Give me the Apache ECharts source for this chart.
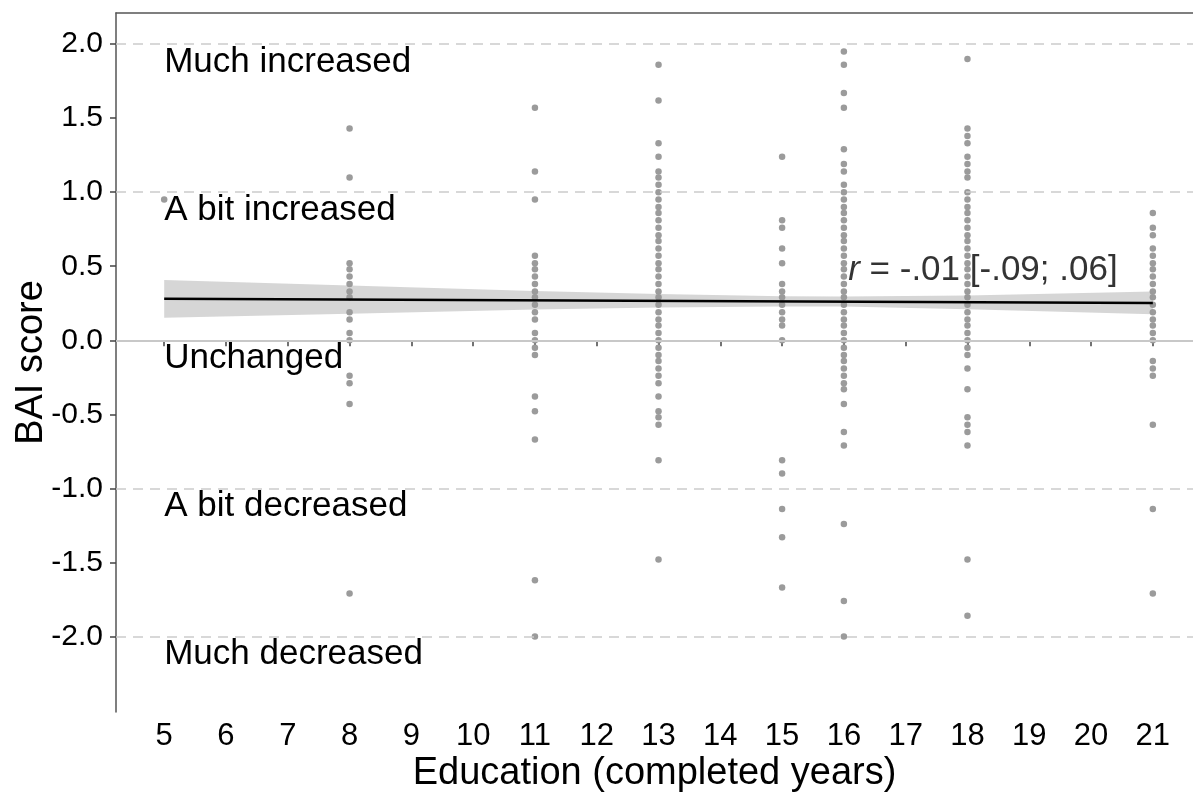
<!DOCTYPE html>
<html>
<head>
<meta charset="utf-8">
<script src="https://cdn.jsdelivr.net/npm/echarts@6/dist/echarts.min.js"></script>
<style>
  html, body { margin: 0; padding: 0; background: #fff; }
  #chart { width: 1193px; height: 792px; }
</style>
</head>
<body>
<div id="chart"></div>
<script>
// BAI score per person, grouped by completed years of education
var bai5 = [0.95];
var bai8 = [1.43, 1.10, 0.52, 0.48, 0.43, 0.38, 0.33, 0.29, 0.19, 0.14, 0.05, 0.00, -0.24, -0.29, -0.43, -1.71];
var bai11 = [1.57, 1.14, 0.95, 0.57, 0.52, 0.48, 0.43, 0.38, 0.33, 0.29, 0.24, 0.19, 0.14, 0.05, 0.00, -0.05, -0.10,
  -0.38, -0.48, -0.67, -1.62, -2.00];
var bai13 = [1.86, 1.62, 1.33, 1.24, 1.14, 1.10, 1.05, 1.00, 0.95, 0.90, 0.86, 0.81, 0.76, 0.71, 0.67, 0.62, 0.57,
  0.52, 0.48, 0.43, 0.38, 0.33, 0.29, 0.24, 0.19, 0.14, 0.10, 0.05, 0.00, -0.05, -0.10, -0.14, -0.19, -0.24, -0.29,
  -0.38, -0.48, -0.52, -0.57, -0.81, -1.48];
var bai15 = [1.24, 0.81, 0.76, 0.62, 0.52, 0.38, 0.33, 0.29, 0.24, 0.19, 0.14, 0.10, 0.00, -0.81, -0.90, -1.14, -1.33, -1.67];
var bai16 = [1.95, 1.86, 1.67, 1.57, 1.29, 1.19, 1.14, 1.05, 1.00, 0.95, 0.90, 0.86, 0.81, 0.76, 0.71, 0.67, 0.62,
  0.57, 0.52, 0.48, 0.43, 0.38, 0.33, 0.29, 0.24, 0.19, 0.14, 0.10, 0.05, 0.00, -0.05, -0.10, -0.14, -0.19, -0.24,
  -0.29, -0.33, -0.43, -0.62, -0.71, -1.24, -1.76, -2.00];
var bai18 = [1.90, 1.43, 1.38, 1.33, 1.24, 1.19, 1.14, 1.10, 1.00, 0.95, 0.90, 0.86, 0.81, 0.76, 0.71, 0.67, 0.62,
  0.57, 0.52, 0.48, 0.43, 0.38, 0.33, 0.29, 0.24, 0.19, 0.14, 0.10, 0.05, 0.00, -0.05, -0.10, -0.19, -0.33,
  -0.52, -0.57, -0.62, -0.71, -1.48, -1.86];
var bai21 = [0.86, 0.76, 0.71, 0.62, 0.57, 0.52, 0.48, 0.43, 0.38, 0.33, 0.29, 0.24, 0.19, 0.14, 0.10, 0.05, 0.00,
  -0.14, -0.19, -0.24, -0.57, -1.14, -1.71];

var eduYears = [5, 8, 11, 13, 15, 16, 18, 21];
var baiByYear = [bai5, bai8, bai11, bai13, bai15, bai16, bai18, bai21];

// linear fit and its confidence band
var fitX = [5, 21];
var fitY = [0.28, 0.252];
var bandX = [5, 8, 11, 13, 15, 16, 18, 21];
var bandLow = [0.153, 0.18, 0.208, 0.222, 0.228, 0.228, 0.21, 0.175];
var bandHigh = [0.407, 0.37, 0.332, 0.312, 0.298, 0.296, 0.302, 0.33];

var xTicks = [5, 6, 7, 8, 9, 10, 11, 12, 13, 14, 15, 16, 17, 18, 19, 20, 21];
var yTicks = [-2, -1.5, -1, -0.5, 0, 0.5, 1, 1.5, 2];
var dashedLevels = [2, 1, -1, -2];
var levelNames = ['Much increased', 'A bit increased', 'Unchanged', 'A bit decreased', 'Much decreased'];
var levelNameY = [1.88, 0.88, -0.12, -1.12, -2.12];
var corrText = ' = -.01 [-.09; .06]';
var corrPos = [18.25, 0.47];

var FONT = '"Liberation Sans", Arial, sans-serif';

var points = [];
for (var i = 0; i < eduYears.length; i++) {
  for (var j = 0; j < baiByYear[i].length; j++) {
    points.push([eduYears[i], baiByYear[i][j]]);
  }
}

var bandData = [];
for (var b = 0; b < bandX.length; b++) {
  bandData.push([bandX[b], bandLow[b], bandHigh[b]]);
}

var nameData = [];
for (var n = 0; n < levelNames.length; n++) {
  nameData.push({ value: [5, levelNameY[n]], label: { formatter: levelNames[n] } });
}

var gridLines = [];
for (var g = 0; g < dashedLevels.length; g++) {
  gridLines.push({ yAxis: dashedLevels[g], lineStyle: { type: [10, 7], color: '#cccccc', width: 1.6 } });
}
gridLines.push({ yAxis: 0, lineStyle: { type: 'solid', color: '#c8c8c8', width: 2 } });

var chart = echarts.init(document.getElementById('chart'), null, { renderer: 'canvas' });

var option = {
  backgroundColor: '#ffffff',
  animation: false,
  textStyle: { fontFamily: FONT },
  grid: { left: 116, top: 13, right: 0, bottom: 80, containLabel: false, outerBoundsMode: 'none' },
  xAxis: [
    {
      type: 'value',
      min: 4.22,
      max: 21.65,
      name: 'Education (completed years)',
      nameLocation: 'middle',
      nameGap: 43,
      nameMoveOverlap: false,
      nameTextStyle: { fontSize: 38, color: '#000', fontFamily: FONT },
      axisLine: { show: true, lineStyle: { color: '#555', width: 1.5 } },
      axisTick: { show: true, length: 6, customValues: xTicks, lineStyle: { color: '#444', width: 1.5 } },
      axisLabel: { customValues: xTicks, fontSize: 31, color: '#000', margin: 9, fontFamily: FONT },
      splitLine: { show: false }
    },
    {
      type: 'value',
      position: 'top',
      min: 4.22,
      max: 21.65,
      axisLine: { show: true, lineStyle: { color: '#555', width: 1.5 } },
      axisTick: { show: false },
      axisLabel: { show: false },
      splitLine: { show: false }
    }
  ],
  yAxis: {
    type: 'value',
    min: -2.51,
    max: 2.21,
    name: 'BAI score',
    nameLocation: 'middle',
    nameGap: 65,
    nameMoveOverlap: false,
    nameTextStyle: { fontSize: 38, color: '#000', fontFamily: FONT },
    axisLine: { show: true, lineStyle: { color: '#555', width: 1.5 } },
    axisTick: { show: true, length: 6, customValues: yTicks, lineStyle: { color: '#444', width: 1.5 } },
    axisLabel: {
      customValues: yTicks, fontSize: 30, color: '#000', margin: 13, fontFamily: FONT,
      formatter: function (v) { return v.toFixed(1); }
    },
    splitLine: { show: false }
  },
  series: [
    {
      // reference lines at the answer levels
      type: 'line',
      data: [],
      z: 1,
      markLine: { silent: true, symbol: 'none', label: { show: false }, data: gridLines }
    },
    {
      type: 'scatter',
      data: points,
      symbolSize: 6.5,
      itemStyle: { color: '#9b9b9b', opacity: 1 },
      z: 2
    },
    {
      type: 'custom',
      data: bandData,
      z: 3,
      renderItem: function (params, api) {
        if (params.dataIndex !== 0) return null;
        var top = [], bottom = [];
        for (var k = 0; k < bandData.length; k++) {
          top.push(api.coord([bandData[k][0], bandData[k][2]]));
          bottom.unshift(api.coord([bandData[k][0], bandData[k][1]]));
        }
        return {
          type: 'polygon',
          shape: { points: top.concat(bottom) },
          style: { fill: 'rgba(153,153,153,0.4)' }
        };
      }
    },
    {
      type: 'line',
      data: [[fitX[0], fitY[0]], [fitX[1], fitY[1]]],
      symbol: 'none',
      lineStyle: { color: '#000', width: 2.5 },
      z: 4
    },
    {
      type: 'scatter',
      data: nameData,
      symbolSize: 0,
      itemStyle: { color: '#000' },
      z: 5,
      label: {
        show: true, position: 'right', distance: 0, verticalAlign: 'middle',
        fontSize: 35, color: '#000', opacity: 1, fontFamily: FONT
      }
    },
    {
      type: 'scatter',
      data: [corrPos],
      symbolSize: 0,
      itemStyle: { color: '#000' },
      z: 5,
      label: {
        show: true, position: 'inside', align: 'center', verticalAlign: 'middle',
        formatter: '{i|r}{t|' + corrText + '}',
        rich: {
          i: { fontSize: 35, fontStyle: 'italic', color: '#000', fontFamily: FONT },
          t: { fontSize: 35, color: '#000', fontFamily: FONT }
        }
      }
    }
  ]
};

chart.setOption(option);
window.addEventListener('resize', chart.resize);
</script>
</body>
</html>
